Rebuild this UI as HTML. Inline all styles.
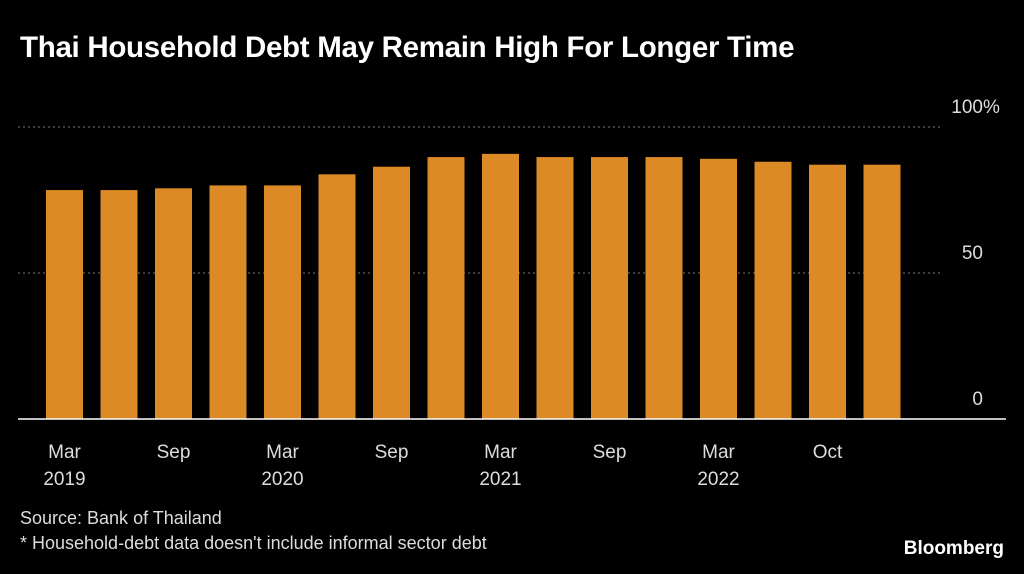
<!DOCTYPE html>
<html><head><meta charset="utf-8"><style>
body{margin:0;background:#000;width:1024px;height:574px;overflow:hidden;font-family:"Liberation Sans",sans-serif;color:#fff}
#title{position:absolute;left:20px;top:31px;font-size:29.5px;font-weight:bold;letter-spacing:-0.3px}
.src{position:absolute;left:20px;font-size:18px;color:#ddd}
#logo{position:absolute;right:20px;top:538px;font-size:19px;font-weight:bold}
svg{position:absolute;left:0;top:0}
</style></head><body>
<div id="title">Thai Household Debt May Remain High For Longer Time</div>
<svg id="chart" width="1024" height="574"></svg>
<div class="src" style="top:508px">Source: Bank of Thailand</div>
<div class="src" style="top:533px">* Household-debt data doesn't include informal sector debt</div>
<div id="logo">Bloomberg</div>
<script>
const values=[78.4,78.4,79.0,80.0,80.0,83.8,86.4,89.7,90.8,89.7,89.7,89.7,89.1,88.1,87.1,87.1];
const xLabels=[[0,"Mar","2019"],[2,"Sep",""],[4,"Mar","2020"],[6,"Sep",""],[8,"Mar","2021"],[10,"Sep",""],[12,"Mar","2022"],[14,"Oct",""]];
const yTicks=[0,50,100];
const NS="http://www.w3.org/2000/svg",svg=document.getElementById('chart');
const y=v=>419-v*2.92, x=i=>46+i*54.5, bw=37;
function mk(t,a){const e=document.createElementNS(NS,t);for(const k in a)e.setAttribute(k,a[k]);svg.appendChild(e);return e;}
yTicks.forEach(t=>{
  if(t>0){const g=mk('line',{x1:18,x2:940,y1:y(t),y2:y(t),stroke:'#777','stroke-dasharray':'2,3'});
  
  }
  const l=mk('text',{x:983,y:y(t)-14,'text-anchor':'end',fill:'#ddd','font-size':19,'font-family':'Liberation Sans'});
  l.textContent=t;
  
  
  if(t===100){const p=mk('text',{x:983,y:y(t)-14,fill:'#ddd','font-size':19,'font-family':'Liberation Sans'});
  p.textContent='%';
  
  }
});
values.forEach((v,i)=>{
  const b=mk('rect',{x:x(i),y:y(v),width:bw,height:419-y(v),fill:'#dc8a25'});
  
  
});
const ax=mk('line',{x1:18,x2:1006,y1:419,y2:419,stroke:'#fff','stroke-width':1.5});


xLabels.forEach(([i,a,b])=>{
  const cx=x(i)+bw/2;
  const t=mk('text',{x:cx,y:458,'text-anchor':'middle',fill:'#ddd','font-size':19,'font-family':'Liberation Sans'});
  t.textContent=a;
  
  
  if(b){const t2=mk('text',{x:cx,y:485,'text-anchor':'middle',fill:'#ddd','font-size':19,'font-family':'Liberation Sans'});
  t2.textContent=b;
  
  }
});
</script>
</body></html>
